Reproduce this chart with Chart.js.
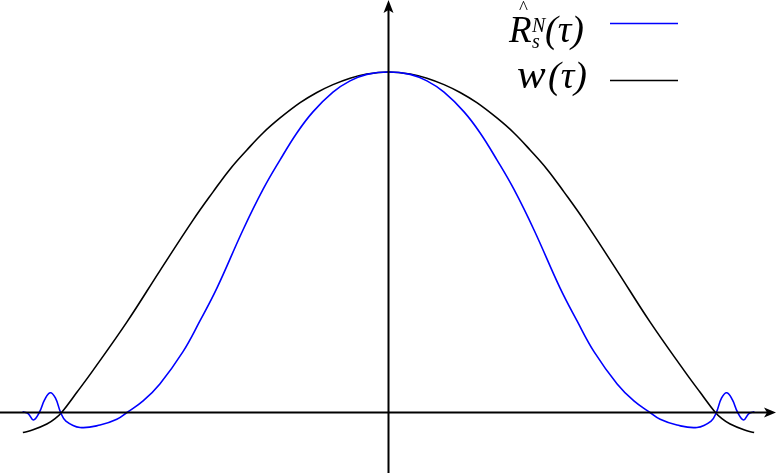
<!DOCTYPE html>
<html>
<head>
<meta charset="utf-8">
<script src="https://cdn.jsdelivr.net/npm/chart.js@4.4.1/dist/chart.umd.min.js"></script>
<style>
  html, body { margin: 0; padding: 0; background: #fff; }
  .wrap { position: relative; width: 777px; height: 473px; }
  .wrap canvas { position: absolute; left: 0; top: 0; }
  .wrap svg { position: absolute; left: 0; top: 0; }
</style>
</head>
<body>
<div class="wrap">
  <canvas id="myChart"></canvas>
  <svg width="777" height="473" font-family="Liberation Serif, serif" font-style="italic">
    <text x="509" y="42" font-size="37">R</text>
    <text x="519" y="14" font-size="19" font-style="normal">^</text>
    <text x="532" y="32" font-size="20">N</text>
    <text x="532" y="48" font-size="20">s</text>
    <text x="545" y="42" font-size="38">(τ)</text>
    <line x1="610" y1="23.5" x2="678" y2="23.5" stroke="#0000ff" stroke-width="1.5"/>
    <text x="517" y="88" font-size="43">w</text>
    <text x="548" y="88" font-size="38">(τ)</text>
    <line x1="610" y1="80.5" x2="678" y2="80.5" stroke="#000" stroke-width="1.5"/>
  </svg>
</div>
<script>
// window w(tau)
const tauW = [-1.113, -1.082, -1.040, -1.015, -0.995, -0.948, -0.900, -0.796, -0.696, -0.595, -0.534, -0.483, -0.431, -0.382, -0.330, -0.269, -0.218, -0.169, -0.117, -0.066, 0,
              0.066, 0.117, 0.169, 0.218, 0.269, 0.330, 0.382, 0.431, 0.483, 0.534, 0.595, 0.696, 0.796, 0.900, 0.948, 0.995, 1.015, 1.040, 1.082, 1.113];
const wVals = [-0.059, -0.051, -0.034, -0.018, 0, 0.060, 0.123, 0.266, 0.416, 0.565, 0.648, 0.714, 0.771, 0.821, 0.865, 0.910, 0.940, 0.963, 0.982, 0.994, 1,
               0.994, 0.982, 0.963, 0.940, 0.910, 0.865, 0.821, 0.771, 0.714, 0.648, 0.565, 0.416, 0.266, 0.123, 0.060, 0, -0.018, -0.034, -0.051, -0.059];

// estimate R_s^N(tau)
const tauR = [-1.114, -1.097, -1.081, -1.063, -1.047, -1.030, -1.014, -0.998, -0.982, -0.939, -0.878, -0.827, -0.796, -0.747,
              -0.696, -0.626, -0.574, -0.522, -0.443, -0.382, -0.330, -0.279, -0.230, -0.169, -0.117, -0.066, 0,
              0.066, 0.117, 0.169, 0.230, 0.279, 0.330, 0.382, 0.443, 0.522, 0.574, 0.626, 0.696,
              0.747, 0.796, 0.827, 0.878, 0.939, 0.982, 0.998, 1.014, 1.030, 1.047, 1.063, 1.081, 1.097, 1.114];
const rVals = [0.002, -0.003, -0.022, 0, 0.037, 0.058, 0.043, 0, -0.025, -0.044, -0.037, -0.020, 0, 0.034,
               0.084, 0.178, 0.269, 0.366, 0.536, 0.655, 0.742, 0.821, 0.883, 0.941, 0.974, 0.993, 1,
               0.993, 0.974, 0.941, 0.883, 0.821, 0.742, 0.655, 0.536, 0.366, 0.269, 0.178, 0.084,
               0.034, 0, -0.020, -0.037, -0.044, -0.025, 0, 0.043, 0.058, 0.037, 0, -0.022, -0.003, 0.002];

const toPoints = (xs, ys) => xs.map((x, i) => ({ x: x, y: ys[i] }));

// axes with arrow heads, drawn at the library's zero pixels
const arrowAxes = {
  id: 'arrowAxes',
  afterDatasetsDraw(chart) {
    const { ctx, width, height } = chart;
    const x0 = chart.scales.x.getPixelForValue(0);
    const y0 = chart.scales.y.getPixelForValue(0);
    ctx.save();
    ctx.strokeStyle = '#000';
    ctx.fillStyle = '#000';
    ctx.lineWidth = 2;
    ctx.beginPath();
    ctx.moveTo(0, y0);
    ctx.lineTo(width - 8, y0);
    ctx.moveTo(x0, height);
    ctx.lineTo(x0, 8);
    ctx.stroke();
    // right arrow
    ctx.beginPath();
    ctx.moveTo(width - 1, y0);
    ctx.lineTo(width - 13, y0 - 5);
    ctx.lineTo(width - 10, y0);
    ctx.lineTo(width - 13, y0 + 5);
    ctx.closePath();
    ctx.fill();
    // up arrow
    ctx.beginPath();
    ctx.moveTo(x0, 0);
    ctx.lineTo(x0 - 5, 13);
    ctx.lineTo(x0, 10);
    ctx.lineTo(x0 + 5, 13);
    ctx.closePath();
    ctx.fill();
    ctx.restore();
  }
};

const ctx = document.getElementById('myChart').getContext('2d');
new Chart(ctx, {
  type: 'line',
  data: {
    datasets: [
      {
        label: 'R_s^N(τ)',
        data: toPoints(tauR, rVals),
        borderColor: '#0000ff',
        borderWidth: 1.6,
        pointRadius: 0,
        tension: 0.4,
      },
      {
        label: 'w(τ)',
        data: toPoints(tauW, wVals),
        borderColor: '#000000',
        borderWidth: 1.6,
        pointRadius: 0,
        tension: 0.4,
      }
    ]
  },
  options: {
    responsive: true,
    maintainAspectRatio: false,
    animation: false,
    layout: { padding: 0 },
    plugins: { legend: { display: false }, tooltip: { enabled: false } },
    scales: {
      x: { type: 'linear', display: false, min: -1.1826, max: 1.1826 },
      y: { type: 'linear', display: false, min: -0.1777, max: 1.2115 },
    }
  },
  plugins: [arrowAxes]
});
</script>
</body>
</html>
